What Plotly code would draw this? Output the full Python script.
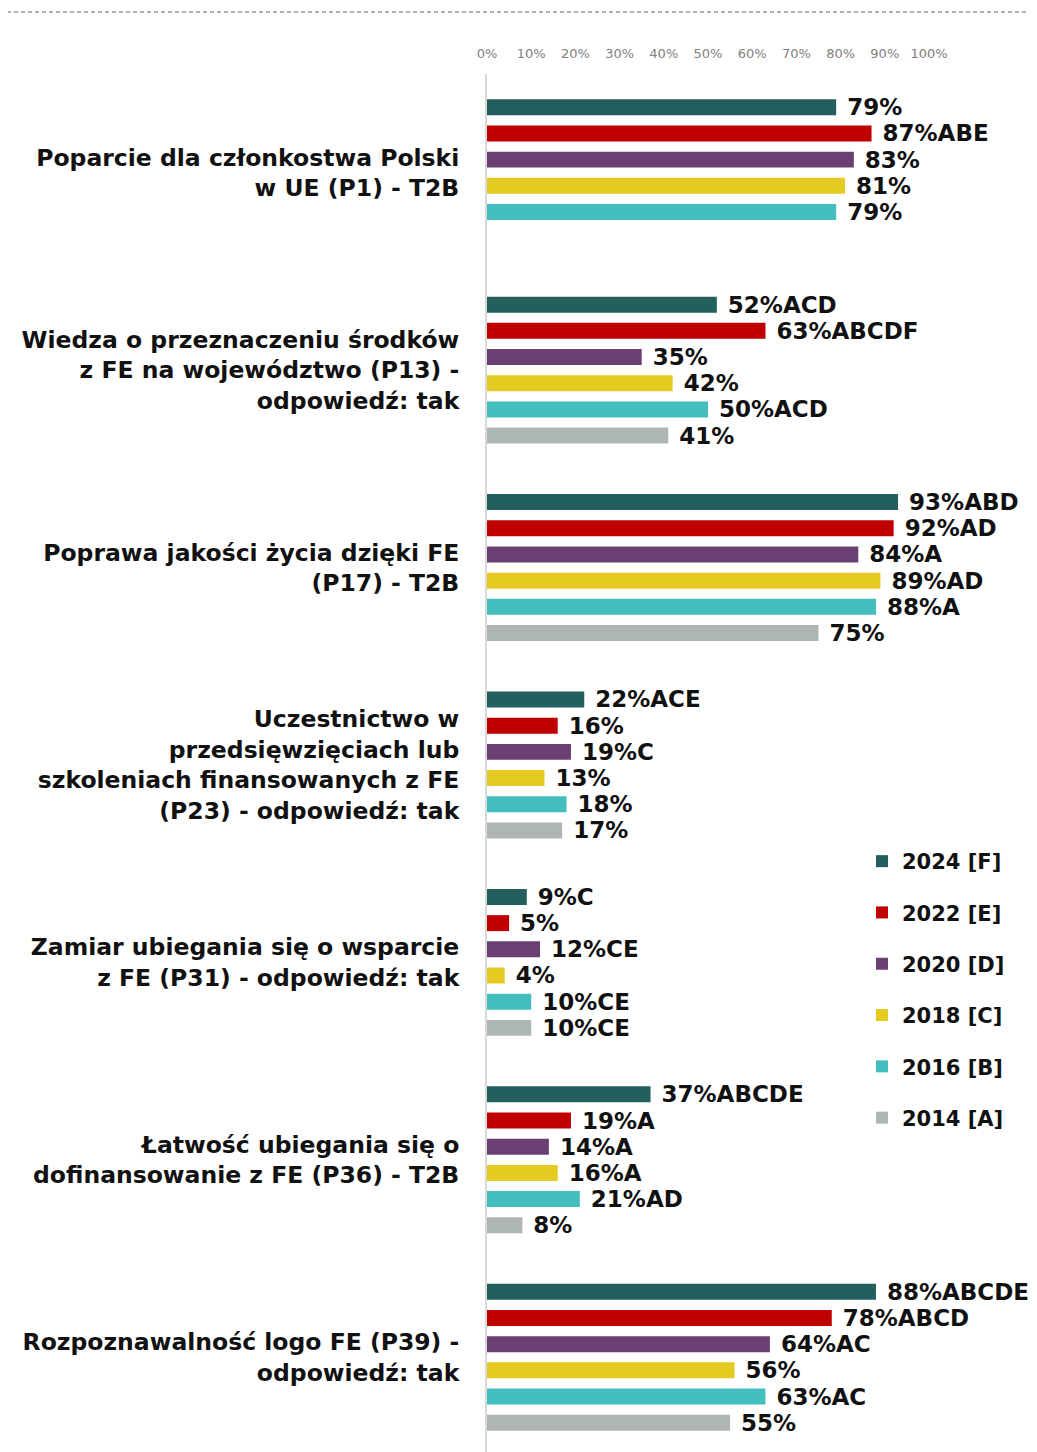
import plotly.graph_objects as go

categories = [
    "Poparcie dla członkostwa Polski<br>w UE (P1) - T2B",
    "Wiedza o przeznaczeniu środków<br>z FE na województwo (P13) -<br>odpowiedź: tak",
    "Poprawa jakości życia dzięki FE<br>(P17) - T2B",
    "Uczestnictwo w<br>przedsięwzięciach lub<br>szkoleniach finansowanych z FE<br>(P23) - odpowiedź: tak",
    "Zamiar ubiegania się o wsparcie<br>z FE (P31) - odpowiedź: tak",
    "Łatwość ubiegania się o<br>dofinansowanie z FE (P36) - T2B",
    "Rozpoznawalność logo FE (P39) -<br>odpowiedź: tak",
]

series_names = ["2024 [F]", "2022 [E]", "2020 [D]", "2018 [C]", "2016 [B]", "2014 [A]"]

v2024 = [79, 52, 93, 22, 9, 37, 88]
v2022 = [87, 63, 92, 16, 5, 19, 78]
v2020 = [83, 35, 84, 19, 12, 14, 64]
v2018 = [81, 42, 89, 13, 4, 16, 56]
v2016 = [79, 50, 88, 18, 10, 21, 63]
v2014 = [None, 41, 75, 17, 10, 8, 55]

s2024 = ["", "ACD", "ABD", "ACE", "C", "ABCDE", "ABCDE"]
s2022 = ["ABE", "ABCDF", "AD", "", "", "A", "ABCD"]
s2020 = ["", "", "A", "C", "CE", "A", "AC"]
s2018 = ["", "", "AD", "", "", "A", ""]
s2016 = ["", "ACD", "A", "", "CE", "AD", "AC"]
s2014 = ["", "", "", "", "CE", "", ""]

colors = ["#235F5D", "#C00000", "#6A4073", "#E5CB21", "#43BDBD", "#AEB5B5"]

values = [v2024, v2022, v2020, v2018, v2016, v2014]
sigs = [s2024, s2022, s2020, s2018, s2016, s2014]

FONT = "DejaVu Sans"

fig = go.Figure()
for name, vals, sg, col in zip(series_names, values, sigs, colors):
    xs = [None if v is None else v / 100 for v in vals]
    texts = ["" if v is None else "\u00a0" + f"{v}%" + s for v, s in zip(vals, sg)]
    fig.add_trace(go.Bar(
        y=categories, x=xs, orientation="h", name=name,
        marker=dict(color=col, line=dict(width=0)),
        text=texts, textposition="outside", cliponaxis=False,
        constraintext="none",
        textfont=dict(family=FONT, size=23, color="#111111", weight=700),
        legendgroup=name, hoverinfo="skip",
    ))

# page is rendered with an 8px body margin, so the figure is sized to fit
W, H = 1029, 1444
L, T, B = 479, 66, 0
pw = 442
R = W - L - pw
ph = H - T - B

fig.update_layout(
    width=W, height=H,
    margin=dict(l=L, r=R, t=T, b=B, pad=0),
    paper_bgcolor="white", plot_bgcolor="white",
    barmode="group", bargap=0.204, bargroupgap=0.39,
    font=dict(family=FONT),
    showlegend=True,
    legend=dict(
        x=(854 - L) / pw, y=(H - 833) / ph, xanchor="left", yanchor="top",
        traceorder="grouped", tracegroupgap=21,
        font=dict(family=FONT, size=21, color="#111111", weight=700),
        bgcolor="rgba(0,0,0,0)",
    ),
    xaxis=dict(
        side="top", range=[0, 1], tickvals=[i / 10 for i in range(11)],
        tickformat=".0%", showgrid=False, zeroline=False, showline=False,
        ticks="", ticklabelstandoff=12,
        tickfont=dict(family=FONT, size=13, color="#808080"),
        fixedrange=True,
    ),
    yaxis=dict(
        range=[6.48, -0.5], showgrid=False, zeroline=False,
        showline=True, linecolor="#D9D9D9", linewidth=2,
        ticks="", ticklabelstandoff=21,
        tickfont=dict(family=FONT, size=23.5, color="#111111", weight=700),
        fixedrange=True,
    ),
    shapes=[dict(
        type="line", xref="paper", yref="paper",
        x0=-(L + 8) / pw, x1=(W - L) / pw, y0=(H - 4) / ph, y1=(H - 4) / ph,
        line=dict(color="#999999", width=1.5, dash="4px,3px"),
    )],
)

fig.write_html("out.html")
